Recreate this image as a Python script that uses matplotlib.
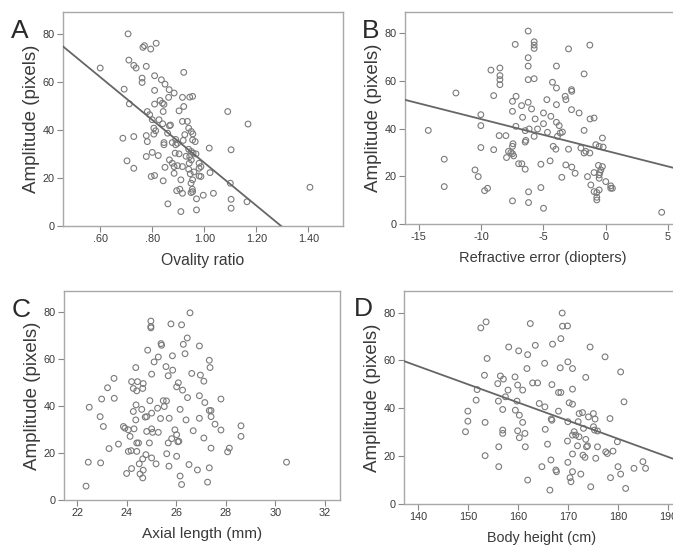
import matplotlib
matplotlib.use("Agg")
import matplotlib.pyplot as plt
import numpy as np

plt.rcParams['font.family'] = ['Liberation Sans', 'DejaVu Sans']

# ---------------- data ----------------
# Panel A: Ovality ratio vs amplitude
a_x = [0.707, 0.764, 0.770, 0.794, 0.815, 0.600, 0.710, 0.729, 0.738, 0.777, 0.761, 0.761,
       0.809, 0.809, 0.835, 0.849, 0.865, 0.884, 0.921, 0.692, 0.712, 0.863, 0.916, 0.944,
       0.955, 0.921, 0.903, 0.830, 0.839, 0.845, 0.809, 0.842, 1.090, 1.168, 0.781, 0.790,
       0.800, 0.826, 0.840, 0.866, 0.916, 0.935, 0.940, 0.950, 0.956, 0.859, 0.806, 0.813,
       0.806, 0.687, 0.729, 0.777, 0.781, 0.845, 0.877, 0.897, 0.890, 0.919, 0.955, 0.965,
       0.845, 0.940, 0.950, 0.957, 0.968, 1.019, 1.103, 0.800, 0.823, 0.777, 0.888, 0.903,
       0.703, 0.866, 0.877, 0.944, 0.950, 0.942, 0.980, 0.884, 0.897, 0.916, 0.940, 0.729,
       0.849, 0.987, 0.980, 1.022, 0.884, 0.796, 0.809, 0.946, 0.980, 0.987, 0.842, 0.910,
       0.955, 0.949, 1.100, 0.894, 0.906, 0.916, 0.955, 0.949, 0.954, 0.996, 1.035, 0.970,
       1.103, 1.164, 1.406, 0.860, 0.970, 0.910, 1.103, 0.870, 0.930, 0.960, 0.925, 0.890]
a_y = [79.9, 74.3, 75.0, 73.6, 76.0, 65.7, 69.0, 66.8, 65.7, 66.4, 61.5, 59.7,
       62.5, 56.4, 60.8, 59.0, 56.7, 55.3, 63.9, 56.9, 50.8, 53.5, 53.5, 53.6,
       53.9, 49.7, 47.9, 52.2, 51.1, 50.6, 50.7, 47.6, 47.6, 42.4, 47.6, 46.3,
       44.2, 44.2, 42.5, 41.7, 43.5, 43.5, 40.7, 39.3, 38.3, 38.6, 40.7, 39.6,
       38.2, 36.5, 37.2, 37.6, 35.1, 34.7, 34.7, 34.4, 33.8, 35.6, 35.8, 35.1,
       33.8, 31.9, 31.0, 30.3, 30.0, 32.4, 31.7, 30.6, 29.3, 28.9, 30.3, 30.0,
       27.1, 27.5, 26.1, 28.9, 27.5, 26.1, 26.1, 24.7, 25.1, 24.7, 23.6, 24.0,
       24.4, 24.7, 24.0, 22.2, 21.9, 20.6, 21.0, 21.7, 20.8, 20.6, 18.8, 19.2,
       19.2, 17.8, 17.8, 14.7, 15.3, 13.6, 14.3, 13.9, 15.3, 12.8, 13.6, 11.3,
       11.1, 10.1, 16.1, 9.2, 6.7, 6.0, 7.4, 42.0, 29.0, 22.5, 38.0, 36.0]
a_line = (115.4, -89.1)   # intercept, slope

# Panel B: Refractive error vs amplitude
b_x = [-6.23, -7.27, -5.75, -5.75, -5.75, -1.28, -2.99, -6.23, -6.23, -9.22, -8.50, -8.50,
       -8.50, -8.50, -3.96, -1.74, -6.23, -5.75, -12.03, -9.00, -4.28, -3.96, -2.75, -2.73,
       -3.26, -3.20, -7.20, -7.49, -6.23, -6.76, -5.96, -4.73, -3.96, -5.00, -4.41, -2.75,
       -2.14, -10.03, -10.03, -14.25, -7.49, -6.68, -5.67, -5.00, -3.96, -3.74, -1.26, -0.94,
       -7.22, -8.56, -8.02, -6.47, -6.15, -5.48, -4.68, -3.66, -3.48, -3.88, -1.74, -0.27,
       -5.75, -6.42, -6.47, -4.22, -4.01, -7.49, -7.45, -10.03, -9.00, -7.81, -7.62, -2.99,
       -2.00, -0.80, -0.53, -0.21, -1.60, -1.28, -1.74, -7.49, -7.40, -7.97, -12.97, -7.00,
       -6.74, -6.47, -5.21, -4.47, -3.21, -2.73, -3.53, -2.46, -1.47, -0.94, -0.59, -0.27,
       -0.40, -0.48, -0.53, -0.53, 0.00, -1.20, -0.94, -0.53, -0.72, 0.40, 0.53, 0.40,
       -10.50, -10.24, -9.73, -9.49, -12.97, -5.21, -6.20, -6.20, -7.49, -5.00, -0.72, -0.72,
       4.49]
b_y = [81.0, 75.4, 76.5, 75.1, 73.7, 75.1, 73.5, 69.8, 66.3, 64.6, 65.5, 62.3,
       60.6, 58.5, 66.3, 63.0, 60.6, 61.0, 55.0, 53.9, 59.5, 57.1, 56.4, 55.7,
       53.6, 52.2, 53.6, 51.5, 51.1, 49.7, 48.3, 52.2, 50.1, 46.6, 45.2, 48.0,
       46.6, 45.9, 41.3, 39.3, 47.3, 44.8, 44.1, 42.1, 42.7, 41.3, 44.1, 44.5,
       41.0, 37.1, 37.1, 39.2, 39.9, 39.9, 38.5, 38.2, 38.6, 36.8, 39.3, 36.1,
       36.8, 35.1, 34.4, 32.6, 31.4, 32.6, 33.7, 32.1, 31.2, 30.5, 30.0, 31.4,
       31.9, 33.3, 32.6, 32.3, 30.5, 29.8, 29.8, 29.5, 28.6, 27.9, 27.2, 25.3,
       25.3, 23.0, 25.1, 26.5, 24.8, 23.9, 19.6, 21.3, 19.9, 21.6, 24.6, 24.1,
       22.7, 21.6, 20.6, 19.2, 17.8, 16.4, 13.6, 14.3, 13.2, 16.0, 15.0, 15.0,
       22.7, 19.9, 14.0, 15.0, 15.7, 15.3, 13.5, 9.0, 9.7, 6.6, 11.2, 10.1,
       4.9]
b_line = (30.78, -1.324)

# Panel C: Axial length vs amplitude
c_x = [26.55, 24.97, 24.97, 24.97, 25.78, 26.21, 26.44, 25.38, 25.40, 26.28, 26.93, 26.35,
       25.27, 25.84, 24.84, 25.10, 24.36, 25.58, 25.85, 27.33, 27.36, 26.62, 26.97, 25.67,
       25.00, 23.48, 24.19, 24.43, 27.11, 24.66, 26.08, 26.01, 26.25, 23.22, 24.26, 24.40,
       24.64, 26.93, 26.45, 27.80, 23.49, 22.98, 25.47, 25.60, 24.93, 27.15, 22.48, 24.37,
       25.51, 25.24, 26.15, 24.60, 27.33, 27.40, 24.26, 25.00, 24.80, 24.74, 22.92, 27.40,
       25.36, 25.71, 26.39, 26.93, 24.36, 27.56, 23.05, 23.86, 23.92, 24.06, 24.29, 28.61,
       28.61, 27.80, 25.94, 25.00, 25.04, 25.27, 24.80, 26.68, 26.01, 24.13, 27.11, 25.81,
       25.67, 26.10, 26.06, 24.40, 24.47, 24.91, 23.66, 23.28, 27.40, 28.14, 28.07, 24.06,
       24.17, 24.40, 25.61, 24.77, 26.01, 25.00, 24.64, 22.44, 22.94, 24.50, 25.18, 25.70,
       26.51, 27.33, 26.85, 24.19, 24.66, 23.99, 24.53, 24.64, 26.15, 30.45, 22.35, 26.21,
       27.26]
c_y = [79.7, 76.2, 73.9, 73.3, 75.0, 74.6, 69.0, 66.6, 65.9, 66.3, 65.6, 62.3,
       60.9, 61.4, 63.8, 58.8, 56.4, 56.8, 55.3, 59.5, 56.4, 53.9, 53.2, 52.9,
       53.6, 51.8, 50.4, 50.4, 50.6, 49.6, 49.9, 48.2, 46.8, 47.8, 47.5, 46.5,
       47.5, 44.4, 43.6, 43.0, 43.3, 43.0, 42.3, 42.2, 42.3, 41.5, 39.5, 40.5,
       39.8, 39.1, 38.6, 38.6, 38.1, 38.1, 37.7, 37.0, 35.5, 35.3, 35.5, 35.5,
       34.7, 34.8, 34.1, 34.8, 34.1, 32.3, 31.3, 31.3, 30.6, 29.9, 30.3, 31.6,
       27.1, 29.8, 29.9, 30.3, 28.8, 28.8, 29.2, 29.5, 27.8, 27.1, 26.4, 26.1,
       24.3, 25.0, 24.8, 24.3, 24.3, 24.3, 23.8, 21.9, 22.1, 22.1, 20.5, 20.7,
       21.0, 20.7, 19.7, 19.3, 18.6, 17.9, 17.5, 16.1, 15.8, 15.4, 15.4, 14.4,
       15.1, 13.7, 12.8, 13.4, 12.7, 11.3, 11.1, 9.4, 10.2, 16.1, 5.9, 6.6,
       7.6]

# Panel D: Body height vs amplitude
d_x = [168.84, 153.62, 152.56, 162.46, 168.90, 169.90, 168.57, 166.91, 163.46, 174.42, 158.14, 160.13,
       161.93, 153.82, 169.97, 165.32, 177.41, 161.79, 168.44, 170.90, 180.53, 153.29, 156.48, 157.08,
       159.40, 173.55, 155.95, 159.93, 162.92, 163.92, 166.78, 158.00, 160.93, 170.90, 151.83, 168.10,
       168.57, 157.48, 151.63, 156.08, 159.80, 164.25, 165.38, 170.23, 170.90, 181.20, 149.97, 156.94,
       159.47, 168.10, 172.23, 172.90, 175.08, 160.27, 166.65, 166.78, 174.09, 175.41, 178.40, 149.97,
       153.42, 160.93, 172.03, 169.97, 173.10, 175.10, 175.30, 156.94, 159.93, 165.45, 175.90, 156.94,
       161.39, 171.23, 170.90, 171.56, 172.20, 149.50, 160.27, 173.55, 169.90, 179.87, 165.91, 171.90,
       173.70, 173.90, 175.90, 161.46, 156.15, 177.54, 179.00, 177.87, 170.90, 173.00, 173.40, 153.42,
       175.55, 166.58, 169.97, 184.98, 180.00, 183.19, 185.51, 164.78, 156.15, 167.57, 167.70, 170.90,
       172.56, 180.53, 178.50, 170.40, 170.60, 161.93, 174.55, 181.53, 166.38]
d_y = [79.8, 76.1, 73.6, 75.4, 74.3, 74.4, 69.1, 66.8, 66.3, 65.6, 65.6, 64.0,
       62.4, 60.8, 59.4, 58.8, 61.5, 56.6, 56.9, 56.6, 55.2, 53.8, 53.5, 52.2,
       53.1, 52.9, 50.3, 49.7, 50.6, 50.6, 49.9, 47.6, 47.6, 48.0, 47.8, 46.6,
       46.6, 44.8, 43.4, 43.0, 43.0, 42.0, 40.6, 42.3, 41.7, 42.7, 38.8, 39.5,
       39.2, 38.8, 37.8, 38.2, 37.8, 37.1, 35.5, 35.0, 36.4, 35.5, 35.7, 34.6,
       34.1, 34.1, 34.4, 34.4, 31.6, 32.3, 30.9, 30.9, 30.6, 31.2, 30.5, 29.5,
       29.5, 30.2, 28.8, 28.8, 28.1, 30.2, 27.7, 27.0, 26.3, 26.0, 25.0, 24.3,
       23.9, 24.3, 23.9, 23.9, 23.9, 21.8, 22.1, 21.1, 20.9, 20.4, 19.5, 20.2,
       19.1, 18.4, 17.4, 17.7, 15.6, 14.9, 14.9, 15.6, 15.6, 14.2, 13.5, 13.5,
       12.5, 12.5, 11.0, 11.0, 9.3, 10.0, 7.2, 6.5, 5.8]
d_line = (163.7, -0.758)

# axis settings
y_ticks = [0, 20, 40, 60, 80]
a_xticks = [0.6, 0.8, 1.0, 1.2, 1.4]
a_xticklabels = ['.60', '.80', '1.00', '1.20', '1.40']
b_xticks = [-15, -10, -5, 0, 5]
b_xticklabels = ['-15', '-10', '-5', '0', '5']
c_xticks = [22, 24, 26, 28, 30, 32]
c_xticklabels = ['22', '24', '26', '28', '30', '32']
d_xticks = [140, 150, 160, 170, 180, 190]
d_xticklabels = ['140', '150', '160', '170', '180', '190']

xlabels = ['Ovality ratio', 'Refractive error (diopters)', 'Axial length (mm)', 'Body height (cm)']
ylabel = 'Amplitude (pixels)'
letters = ['A', 'B', 'C', 'D']

# ---------------- figure ----------------
W, H = 673, 548
fig = plt.figure(figsize=(W / 100, H / 100), dpi=100)
fig.patch.set_facecolor('white')

def px_axes(l, r, t, b):
    return fig.add_axes([l / W, 1 - b / H, (r - l) / W, (b - t) / H])

frame_col = '#a8a8a8'
pt_col = '#7a7a7a'
line_col = '#666666'
txt_col = '#3a3a3a'

panels = [
    dict(box=(63, 343, 12, 226), x=a_x, y=a_y, line=a_line, xlim=(0.457, 1.533),
         xt=a_xticks, xtl=a_xticklabels, letter_xy=(11, 38), xfs=11.3),
    dict(box=(405, 680, 12, 224), x=b_x, y=b_y, line=b_line, xlim=(-16.12, 5.96),
         xt=b_xticks, xtl=b_xticklabels, letter_xy=(362, 38), xfs=10.5),
    dict(box=(64, 340, 291, 500), x=c_x, y=c_y, line=None, xlim=(21.46, 32.61),
         xt=c_xticks, xtl=c_xticklabels, letter_xy=(12, 317), xfs=11.1),
    dict(box=(404, 680, 291, 504), x=d_x, y=d_y, line=d_line, xlim=(137.2, 192.4),
         xt=d_xticks, xtl=d_xticklabels, letter_xy=(354, 316), xfs=10.4),
]

for i, p in enumerate(panels):
    ax = px_axes(*p['box'])
    ax.scatter(p['x'], p['y'], s=17, facecolors='none', edgecolors=pt_col,
               linewidths=0.8, zorder=3)
    ax.set_xlim(*p['xlim'])
    ax.set_ylim(0, 89)
    if p['line'] is not None:
        b0, b1 = p['line']
        xs = np.array(p['xlim'])
        ax.plot(xs, b0 + b1 * xs, color=line_col, lw=1.3, zorder=4)
    ax.set_xticks(p['xt'])
    ax.set_xticklabels(p['xtl'])
    ax.set_yticks(y_ticks)
    for s in ax.spines.values():
        s.set_color(frame_col)
        s.set_linewidth(1.0)
    ax.tick_params(axis='both', direction='out', length=4, width=0.8,
                   color='#888888', labelsize=7.8, labelcolor=txt_col, pad=2)
    ax.set_xlabel(xlabels[i], fontsize=p['xfs'], color=txt_col, labelpad=6)
    ax.set_ylabel(ylabel, fontsize=13.5, color=txt_col, labelpad=2)
    fig.text(p['letter_xy'][0] / W, 1 - p['letter_xy'][1] / H, letters[i],
             fontsize=19, color='#2a2a2a', ha='left', va='baseline')

fig.savefig('out.png', dpi=100, facecolor='white')
